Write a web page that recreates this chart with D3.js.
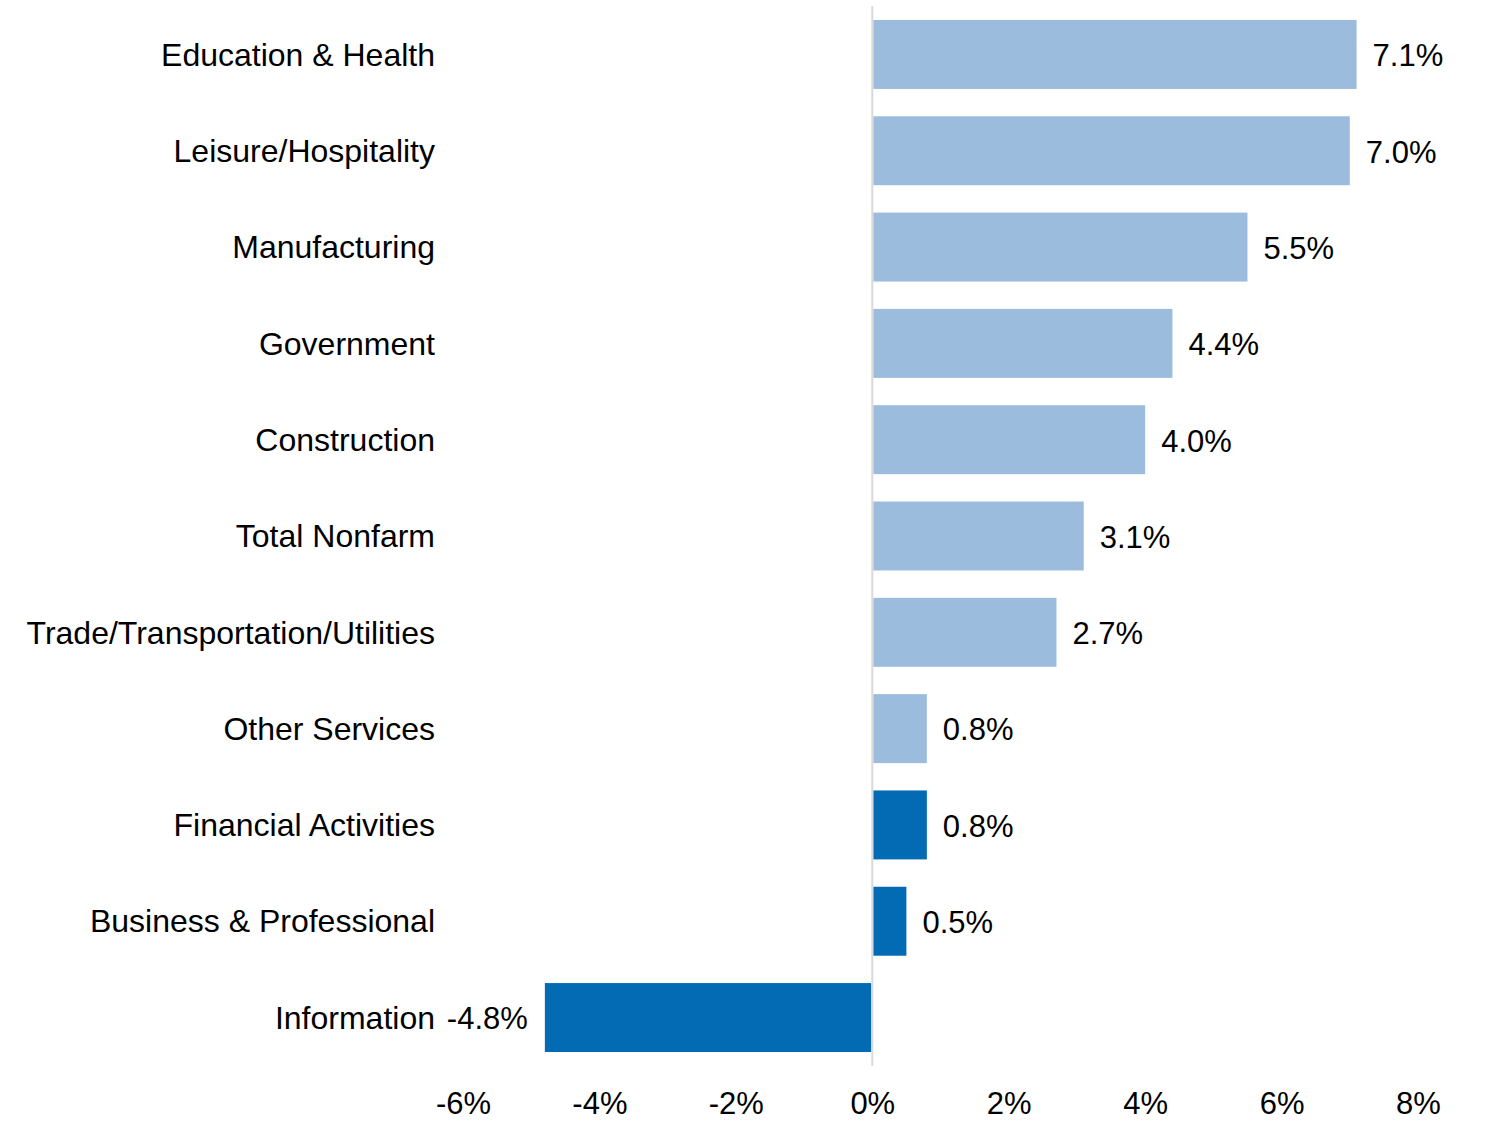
<!DOCTYPE html>
<html>
<head>
<meta charset="utf-8">
<script src="https://cdn.jsdelivr.net/npm/d3@7"></script>
<style>
  html, body { margin: 0; padding: 0; background: #fff; }
  svg { display: block; font-family: "Liberation Sans", Arial, sans-serif; }
</style>
</head>
<body>
<svg id="chart" width="1489" height="1121"></svg>
<script>
const categories = ["Education & Health", "Leisure/Hospitality", "Manufacturing", "Government", "Construction", "Total Nonfarm", "Trade/Transportation/Utilities", "Other Services", "Financial Activities", "Business & Professional", "Information"];
const values = [7.1, 7.0, 5.5, 4.4, 4.0, 3.1, 2.7, 0.8, 0.8, 0.5, -4.8];
const highlighted = ["Financial Activities", "Business & Professional", "Information"];
const tickValues = [-6, -4, -2, 0, 2, 4, 6, 8];
const tickLabels = ["-6%", "-4%", "-2%", "0%", "2%", "4%", "6%", "8%"];

const data = categories.map((c, i) => ({ cat: c, value: values[i] }));
const svg = d3.select("#chart");
const fontSize = 31;
const catFontSize = 32;

const x = d3.scaleLinear().domain([-6, 8]).range([463, 1418]);
const y = d3.scaleBand().domain(categories).range([6.3, 1065.7]).paddingInner(0.284).paddingOuter(0.142);

const light = "#9cbcdd", dark = "#036ab4";

// bars
svg.append("g").selectAll("rect").data(data).join("rect")
  .attr("x", d => d.value >= 0 ? x(0) + 1 : x(d.value))
  .attr("width", d => Math.abs(x(d.value) - x(0)) - 1)
  .attr("y", d => y(d.cat))
  .attr("height", y.bandwidth())
  .attr("fill", d => highlighted.includes(d.cat) ? dark : light);

// zero line
svg.append("line")
  .attr("x1", x(0)).attr("x2", x(0))
  .attr("y1", y.range()[0]).attr("y2", y.range()[1])
  .attr("stroke", "#d9d9d9").attr("stroke-width", 2);

// category labels
svg.append("g").selectAll("text").data(data).join("text")
  .attr("x", 435)
  .attr("y", d => y(d.cat) + y.bandwidth() / 2)
  .attr("dy", "0.35em")
  .attr("text-anchor", "end")
  .attr("font-size", catFontSize)
  .attr("fill", "#000")
  .text(d => d.cat);

// value labels
svg.append("g").selectAll("text").data(data).join("text")
  .attr("x", d => d.value >= 0 ? x(d.value) + 16 : x(d.value) - 17)
  .attr("y", d => y(d.cat) + y.bandwidth() / 2 + 1)
  .attr("dy", "0.35em")
  .attr("text-anchor", d => d.value >= 0 ? "start" : "end")
  .attr("font-size", fontSize)
  .attr("fill", "#000")
  .text(d => d.value.toFixed(1) + "%");

// x axis
const axis = d3.axisBottom(x).tickValues(tickValues)
  .tickFormat((d, i) => tickLabels[i]).tickSize(0).tickPadding(0);
const ax = svg.append("g").attr("transform", "translate(0,1092)").call(axis);
ax.select(".domain").remove();
ax.selectAll("text")
  .attr("font-size", fontSize)
  .attr("font-family", "'Liberation Sans', Arial, sans-serif")
  .attr("fill", "#000")
  .attr("dy", "0.71em");
</script>
</body>
</html>
